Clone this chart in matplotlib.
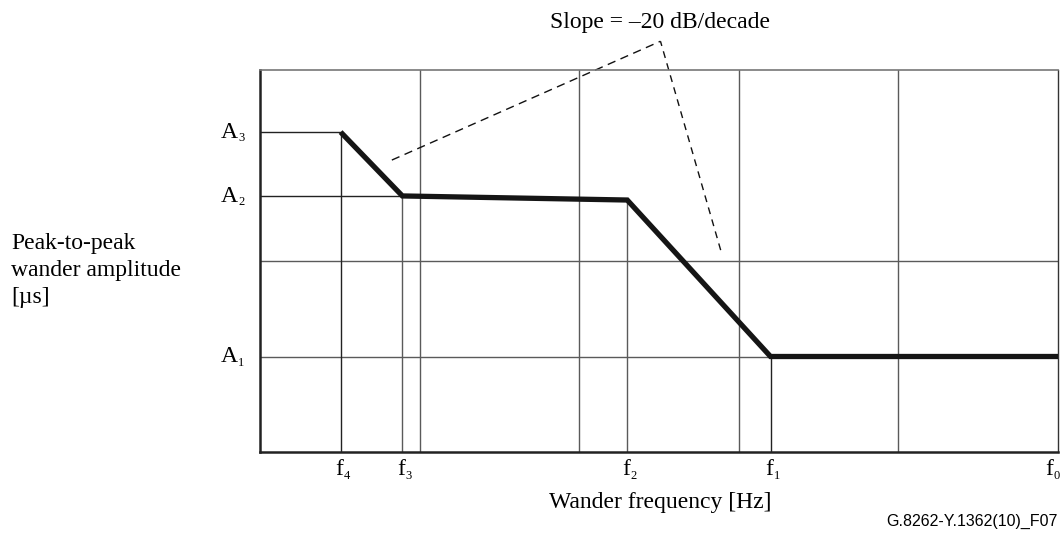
import matplotlib
matplotlib.use("Agg")
import matplotlib.pyplot as plt
from matplotlib.transforms import offset_copy, blended_transform_factory

plt.rcParams["font.family"] = ["Liberation Serif", "DejaVu Serif"]

# Corner frequencies (Hz) and amplitude levels (µs) of the wander mask
freq_subs = ["4", "3", "2", "1", "0"]
freqs = [3.2e-5, 7.8e-5, 2.0e-3, 1.58e-2, 1.0]
amp_subs = ["3", "2", "1"]
amps = [2240, 480, 10]

# Mask polyline: (f4, A3) -> (f3, A2) -> (f2, A2') -> (f1, A1) -> (f0, A1)
mask_f = [3.2e-5, 7.8e-5, 2.0e-3, 1.58e-2, 1.0]
mask_a = [2240, 480, 435, 10, 10]

# Decade grid
grid_x = [1e-4, 1e-3, 1e-2, 1e-1]
grid_y = [10, 100]
xlim = (1e-5, 1.0)
ylim = (1.0, 1e4)

# Leader lines from the slope annotation to the two sloped segments
slope_apex = (3.23e-3, 2.0e4)
slope_ends_f = [6.7e-5, 7.7e-3]
slope_ends_a = [1140, 130]

W, H = 1062, 534
fig = plt.figure(figsize=(W / 100, H / 100), dpi=100)
ax = fig.add_axes([260 / W, (H - 452) / H, (1058 - 260) / W, (452 - 70) / H])
ax.set_xscale("log")
ax.set_yscale("log")
ax.set_xlim(*xlim)
ax.set_ylim(*ylim)

gc = "#5a5a5a"
dk = "#222222"
for gx in grid_x:
    ax.axvline(gx, color=gc, lw=1.0, zorder=1)
for gy in grid_y:
    ax.axhline(gy, color=gc, lw=1.0, zorder=1)

# Reference lines down from each mask corner and across to each level
ax.vlines(mask_f[0], ylim[0], mask_a[0], color=dk, lw=1.0, zorder=1)
ax.vlines(mask_f[1], ylim[0], mask_a[1], color=gc, lw=1.0, zorder=1)
ax.vlines(mask_f[2], ylim[0], mask_a[2], color=gc, lw=1.0, zorder=1)
ax.vlines(mask_f[3], ylim[0], mask_a[3], color=dk, lw=1.0, zorder=1)
ax.hlines(amps[0], xlim[0], freqs[0], color=dk, lw=1.0, zorder=1)
ax.hlines(amps[1], xlim[0], freqs[1], color=dk, lw=1.0, zorder=1)

ax.plot(mask_f, mask_a, color="#151515", lw=3.8, solid_joinstyle="miter",
        solid_capstyle="butt", zorder=3, clip_on=False)

# Dashed pointers for the slope annotation
ax.plot([slope_ends_f[0], slope_apex[0]], [slope_ends_a[0], slope_apex[1]],
        color="#111111", lw=1.0, ls=(0, (6, 4)), clip_on=False, zorder=2)
ax.plot([slope_ends_f[1], slope_apex[0]], [slope_ends_a[1], slope_apex[1]],
        color="#111111", lw=1.0, ls=(0, (5, 4)), clip_on=False, zorder=2)

for sp in ["left", "bottom"]:
    ax.spines[sp].set_linewidth(1.8)
    ax.spines[sp].set_color(dk)
ax.spines["top"].set_linewidth(1.2)
ax.spines["top"].set_color("#777777")
ax.spines["right"].set_linewidth(1.0)
ax.spines["right"].set_color("#333333")

ax.set_xticks([])
ax.set_yticks([])
ax.minorticks_off()

# Subscripted axis labels: f_n under the frequency axis, A_n beside the amplitude axis
xt = blended_transform_factory(ax.transData, ax.transAxes)
yt = blended_transform_factory(ax.transAxes, ax.transData)
main_fs, sub_fs = 17, 9
for i, (f, s) in enumerate(zip(freqs, freq_subs)):
    dx = -5 if i == len(freqs) - 1 else 3
    ax.text(f, 0, "f", ha="right", va="baseline", fontsize=main_fs,
            transform=offset_copy(xt, fig=fig, x=dx, y=-23, units="dots"))
    ax.text(f, 0, s, ha="left", va="baseline", fontsize=sub_fs,
            transform=offset_copy(xt, fig=fig, x=dx, y=-27, units="dots"))
for a, s in zip(amps, amp_subs):
    ax.text(0, a, "A", ha="right", va="baseline", fontsize=main_fs,
            transform=offset_copy(yt, fig=fig, x=-22, y=-6, units="dots"))
    ax.text(0, a, s, ha="left", va="baseline", fontsize=sub_fs,
            transform=offset_copy(yt, fig=fig, x=-22, y=-9, units="dots"))

fig.text(660 / W, 1 - 28 / H, "Slope = \u201320 dB/decade", ha="center",
         va="baseline", fontsize=17)
fig.text(660 / W, 1 - 508 / H, "Wander frequency [Hz]", ha="center",
         va="baseline", fontsize=17)
for line, yb in zip(["Peak-to-peak", "wander amplitude", "[\u00b5s]"], [249, 276, 303]):
    fig.text(11 / W, 1 - yb / H, line, ha="left", va="baseline", fontsize=17)
fig.text(1058 / W, 1 - 526 / H, "G.8262-Y.1362(10)_F07", ha="right",
         va="baseline", fontsize=11.5, family=["Liberation Sans", "DejaVu Sans"])

fig.savefig("out.png", dpi=100)
